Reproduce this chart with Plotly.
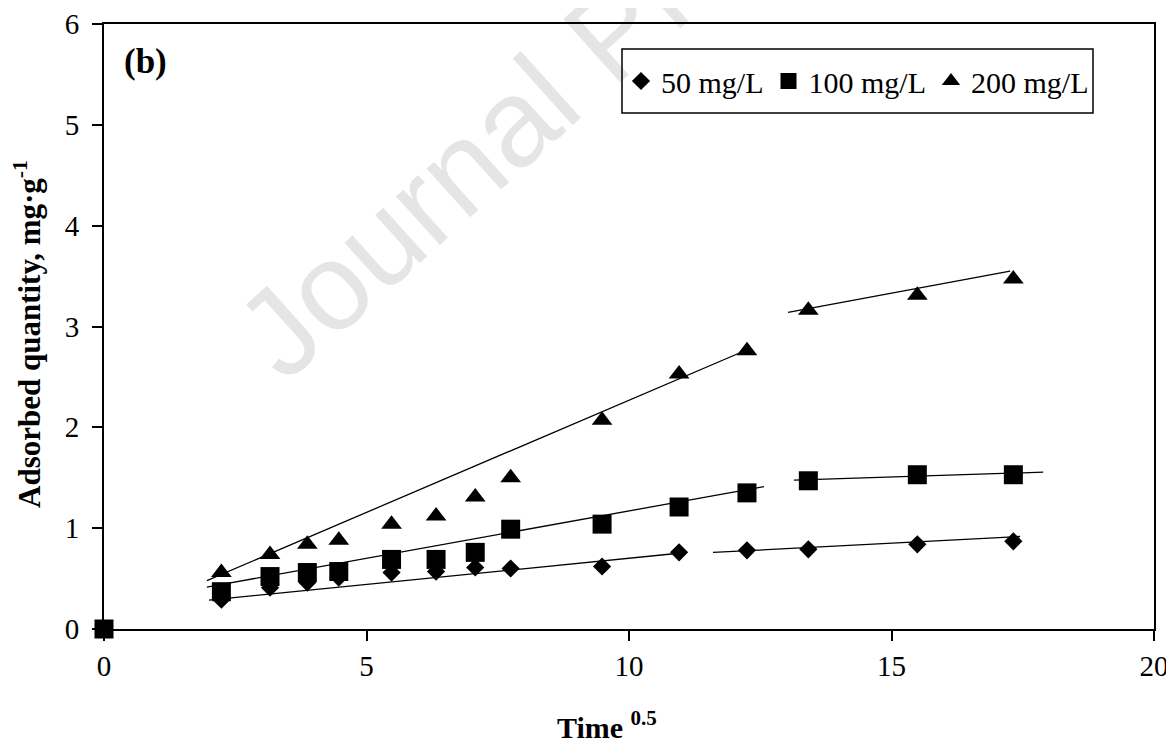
import plotly.graph_objects as go

# ---- data ----
sqrt_time = [2.236, 3.162, 3.873, 4.472, 5.477, 6.325, 7.071, 7.746,
             9.487, 10.954, 12.247, 13.416, 15.492, 17.321]
q_50 = [0.29, 0.41, 0.46, 0.51, 0.56, 0.57, 0.61, 0.60,
        0.62, 0.76, 0.78, 0.79, 0.84, 0.87]
q_100 = [0.37, 0.52, 0.56, 0.57, 0.69, 0.69, 0.76, 0.99,
         1.04, 1.21, 1.35, 1.47, 1.53, 1.53]
q_200 = [0.56, 0.74, 0.84, 0.88, 1.04, 1.12, 1.31, 1.50,
         2.07, 2.53, 2.76, 3.16, 3.31, 3.47]
origin_x = [0]
origin_q = [0]

series_names = ["50 mg/L", "100 mg/L", "200 mg/L"]

# fitted line segments (two per series): x-range, slope, intercept
fit_series = [0, 0, 1, 1, 2, 2]
fit_x_start = [2.0, 11.6, 1.96, 13.14, 1.96, 13.03]
fit_x_end = [10.95, 17.45, 12.57, 17.89, 12.25, 17.26]
fit_slope = [0.052, 0.027, 0.094, 0.0168, 0.2225, 0.097]
fit_intercept = [0.182, 0.446, 0.231, 1.255, 0.044, 1.876]

x_ticks = [0, 5, 10, 15, 20]
y_ticks = [0, 1, 2, 3, 4, 5, 6]

SERIF = "Liberation Serif, Times New Roman, serif"

fig = go.Figure()

for s, x0, x1, m, b in zip(fit_series, fit_x_start, fit_x_end, fit_slope, fit_intercept):
    fig.add_trace(go.Scatter(
        x=[x0, x1], y=[b + m * x0, b + m * x1], mode="lines",
        line=dict(color="black", width=1.3), showlegend=False,
        hoverinfo="skip", cliponaxis=False))

fig.add_trace(go.Scatter(
    x=sqrt_time, y=q_50, mode="markers", name=series_names[0],
    marker=dict(symbol="diamond", size=14, color="black"), cliponaxis=False))
fig.add_trace(go.Scatter(
    x=origin_x + sqrt_time, y=origin_q + q_100, mode="markers", name=series_names[1],
    marker=dict(symbol="square", size=19, color="black"), cliponaxis=False))
fig.add_trace(go.Scatter(
    x=sqrt_time, y=q_200, mode="markers", name=series_names[2],
    marker=dict(symbol="triangle-up", size=18, color="black"), cliponaxis=False))

# page offset (body margin) of the rendered html
OFF = 8
# plot area in page pixels
L, R, T, B = 104, 1154, 24, 629
W, H = R - L, B - T


def px(x):
    return (x - L) / W


def py(y):
    return (B - y) / H


fig.update_layout(
    template="none",
    width=1174, height=746,
    margin=dict(l=L - OFF, r=1174 - (R - OFF), t=T - OFF, b=746 - (B - OFF)),
    paper_bgcolor="white", plot_bgcolor="white",
    font=dict(family=SERIF, size=29, color="black"),
    showlegend=True,
    legend=dict(orientation="h", x=(px(622) + px(1093)) / 2, y=py(81),
                xanchor="center", yanchor="middle",
                font=dict(family=SERIF, size=30, color="black"),
                bgcolor="rgba(0,0,0,0)", borderwidth=0,
                itemwidth=30),
    xaxis=dict(range=[0, 20], tickvals=x_ticks, showgrid=False, zeroline=False,
               showline=True, linecolor="black", linewidth=2, mirror=True,
               ticks="outside", ticklen=10, tickwidth=1.5, tickcolor="black",
               ticklabelstandoff=0,
               tickfont=dict(family=SERIF, size=29, color="black")),
    yaxis=dict(range=[0, 6], tickvals=y_ticks, showgrid=False, zeroline=False,
               showline=True, linecolor="black", linewidth=2, mirror=True,
               ticks="outside", ticklen=10, tickwidth=1.5, tickcolor="black",
               ticklabelstandoff=7,
               tickfont=dict(family=SERIF, size=29, color="black")),
    shapes=[dict(type="rect", xref="paper", yref="paper",
                 x0=px(622), x1=px(1093), y0=py(113), y1=py(49),
                 line=dict(color="black", width=1.5), fillcolor="rgba(0,0,0,0)")],
    annotations=[
        dict(text="Journal Pre-proof", xref="paper", yref="paper",
             x=px(612), y=py(32), xanchor="center", yanchor="middle",
             textangle=-42, showarrow=False,
             font=dict(family="Liberation Sans, Arial, sans-serif", size=124,
                       color="rgba(0,0,0,0.1)")),
        dict(text="<b>(b)</b>", xref="paper", yref="paper",
             x=px(145), y=py(62), xanchor="center", yanchor="middle",
             showarrow=False, font=dict(family=SERIF, size=35, color="black")),
        dict(text="<b>Adsorbed quantity, mg·g<sup>-1</sup></b>", xref="paper", yref="paper",
             x=px(27), y=py(334), xanchor="center", yanchor="middle",
             textangle=-90, showarrow=False,
             font=dict(family=SERIF, size=31, color="black")),
        dict(text="<b>Time <sup>0.5</sup></b>", xref="paper", yref="paper",
             x=px(607), y=py(725), xanchor="center", yanchor="middle",
             showarrow=False, font=dict(family=SERIF, size=30, color="black")),
    ],
)

fig.write_html("out.html")
